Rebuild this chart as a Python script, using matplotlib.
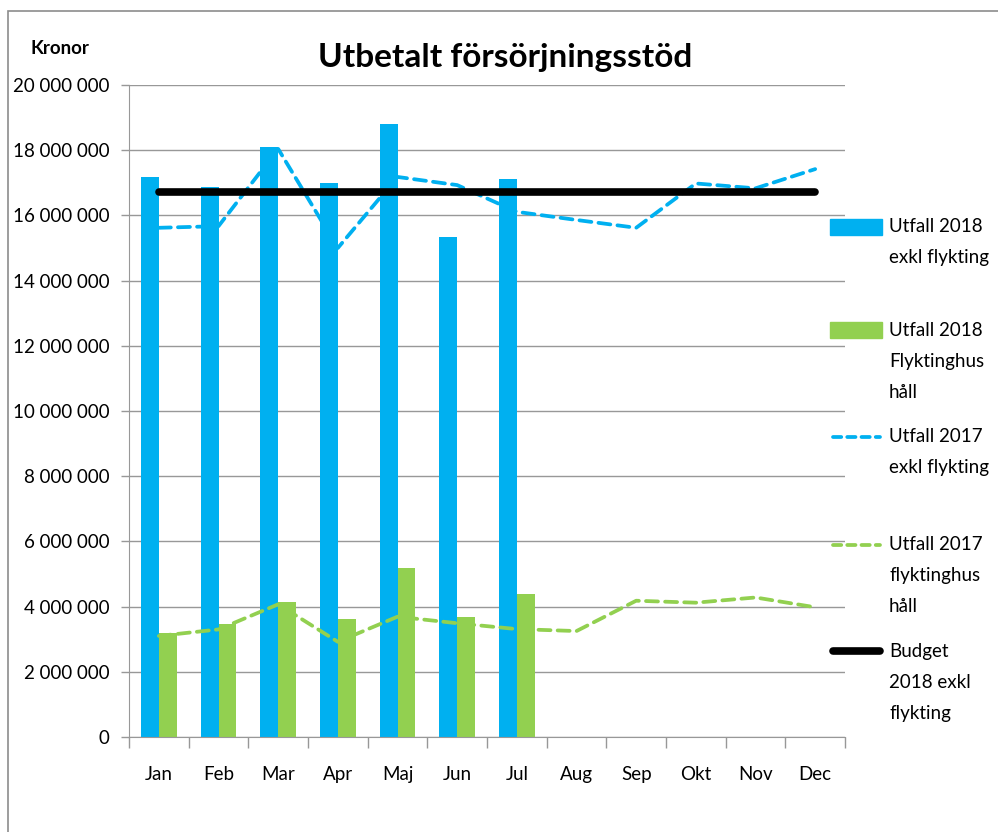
import matplotlib
matplotlib.use("Agg")
import matplotlib.pyplot as plt
from matplotlib.lines import Line2D
from matplotlib.patches import Rectangle
from matplotlib.ticker import FuncFormatter, FixedLocator

months = ["Jan", "Feb", "Mar", "Apr", "Maj", "Jun", "Jul", "Aug", "Sep", "Okt", "Nov", "Dec"]

# Utfall 2018 (bars, Jan-Jul)
utfall_2018_exkl = [17190000, 16860000, 18100000, 16990000, 18800000, 15330000, 17130000]
utfall_2018_flykt = [3180000, 3460000, 4150000, 3630000, 5170000, 3680000, 4390000]

# Utfall 2017 (dashed lines, all months)
utfall_2017_exkl = [15620000, 15670000, 18040000, 15000000, 17180000, 16930000, 16110000,
                    15860000, 15620000, 16980000, 16830000, 17420000]
utfall_2017_flykt = [3100000, 3300000, 4070000, 2920000, 3690000, 3490000, 3310000,
                     3250000, 4180000, 4120000, 4280000, 3980000]

budget_2018_exkl = [16720000] * 12

blue = "#00B0F0"
green = "#92D050"
grid_c = "#989898"

plt.rcParams["font.family"] = ["Lato", "DejaVu Sans"]

fig = plt.figure(figsize=(9.98, 8.32), dpi=100)
ax = fig.add_axes([129 / 998, 1 - 737 / 832, (845 - 129) / 998, (737 - 85) / 832])

x = list(range(len(months)))
xb = list(range(len(utfall_2018_exkl)))
w = 0.3
ax.bar([i - w / 2 for i in xb], utfall_2018_exkl, width=w, color=blue, zorder=2)
ax.bar([i + w / 2 for i in xb], utfall_2018_flykt, width=w, color=green, zorder=2)

ax.plot(x, utfall_2017_exkl, color=blue, lw=2.7, dashes=(3.2, 1.9),
        dash_capstyle="round", zorder=3)
ax.plot(x, utfall_2017_flykt, color=green, lw=2.7, dashes=(3.2, 1.9),
        dash_capstyle="round", zorder=3)
ax.plot(x, budget_2018_exkl, color="black", lw=5.5, solid_capstyle="round", zorder=4)

ax.set_xlim(-0.5, 11.5)
ax.set_ylim(0, 20000000)
ax.yaxis.set_major_locator(FixedLocator(range(0, 20000001, 2000000)))
ax.yaxis.set_major_formatter(FuncFormatter(lambda v, p: "{:,}".format(int(v)).replace(",", " ")))
ax.set_xticks(x)
ax.set_xticklabels(months)
ax.set_xticks([i - 0.5 for i in range(13)], minor=True)
ax.tick_params(axis="x", which="major", length=0, pad=21, labelsize=13.5)
ax.tick_params(axis="x", which="minor", length=8, color=grid_c, width=1)
ax.tick_params(axis="y", which="major", length=6, color=grid_c, width=1, pad=8, labelsize=13.5)

ax.grid(axis="y", color=grid_c, lw=1, zorder=0)
for s in ["top", "right"]:
    ax.spines[s].set_visible(False)
ax.spines["left"].set_color(grid_c)
ax.spines["bottom"].set_color(grid_c)

fig.text(505 / 998, 1 - 58 / 832, "Utbetalt försörjningsstöd", ha="center", va="center",
         fontsize=24, fontweight="bold")
fig.text(60 / 998, 1 - 48 / 832, "Kronor", ha="center", va="center",
         fontsize=13.5, fontweight="bold")

# outer frame
fig.patches.append(Rectangle((8 / 998, -0.1), 1.2, 1.1 - 11 / 832, transform=fig.transFigure,
                             fill=False, edgecolor="#8c8c8c", lw=1.2))

# legend, placed by hand
legend_items = [
    ("patch", blue, ["Utfall 2018", "exkl flykting"], 227),
    ("patch", green, ["Utfall 2018", "Flyktinghus", "håll"], 330),
    ("dash", blue, ["Utfall 2017", "exkl flykting"], 437),
    ("dash", green, ["Utfall 2017", "flyktinghus", "håll"], 545),
    ("solid", "black", ["Budget", "2018 exkl", "flykting"], 651),
]
for kind, col, lines, ypx in legend_items:
    yf = 1 - ypx / 832
    if kind == "patch":
        fig.patches.append(Rectangle((830 / 998, yf - 8 / 832), 52 / 998, 16 / 832,
                                     transform=fig.transFigure, color=col))
    elif kind == "dash":
        fig.lines.append(Line2D([833 / 998, 880 / 998], [yf, yf], transform=fig.transFigure,
                                color=col, lw=2.7, dashes=(2.2, 1.6), dash_capstyle="round"))
    else:
        fig.lines.append(Line2D([833 / 998, 880 / 998], [yf, yf], transform=fig.transFigure,
                                color=col, lw=5.5, solid_capstyle="round"))
    for k, t in enumerate(lines):
        fig.text(889 / 998, 1 - (ypx + 31 * k) / 832, t, ha="left", va="center", fontsize=13.5)

fig.savefig("out.png", dpi=100)
